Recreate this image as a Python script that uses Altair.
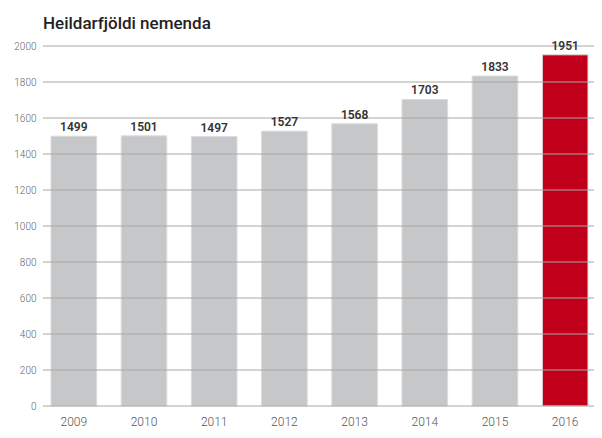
import altair as alt
import pandas as pd

years = ["2009", "2010", "2011", "2012", "2013", "2014", "2015", "2016"]
students = [1499, 1501, 1497, 1527, 1568, 1703, 1833, 1951]
highlight = ["nei", "nei", "nei", "nei", "nei", "nei", "nei", "já"]
grid_values = [0, 200, 400, 600, 800, 1000, 1200, 1400, 1600, 1800, 2000]

df = pd.DataFrame({"year": years, "students": students, "hl": highlight})
grid_df = pd.DataFrame({"v": grid_values})

FONT = "Roboto"
W = 551
H = 360

x_scale = alt.Scale(paddingInner=0.35, paddingOuter=0.0997, align=0.571)
x_axis = alt.Axis(title=None, labelAngle=0, ticks=False, domain=False,
                  labelPadding=10, labelFontSize=12, labelColor="#555",
                  labelFont=FONT, labelFontWeight=300)
y_scale = alt.Scale(domain=[0, 2000], nice=False)
y_axis = alt.Axis(title=None, values=grid_values, grid=False, ticks=False,
                  domain=False, labelPadding=7, labelFontSize=10,
                  labelColor="#666", labelFont=FONT, labelFontWeight=300,
                  format="d", labelOverlap=False)

bars = alt.Chart(df).mark_bar(stroke="#dcdcdc", strokeWidth=1).encode(
    x=alt.X("year:N", sort=years, scale=x_scale, axis=x_axis),
    y=alt.Y("students:Q", scale=y_scale, axis=y_axis),
    color=alt.Color("hl:N", scale=alt.Scale(domain=["nei", "já"],
                                           range=["#c6c7c9", "#c0001a"]), legend=None),
)

grid = alt.Chart(grid_df).mark_rule(color="#a8a8a8", strokeWidth=1).encode(
    y=alt.Y("v:Q", scale=y_scale, axis=y_axis),
    x=alt.value(0),
    x2=alt.value(W),
)

labels = alt.Chart(df).mark_text(dy=-9, fontSize=12, fontWeight=600,
                                 color="#333", font=FONT).encode(
    x=alt.X("year:N", sort=years, scale=x_scale, axis=x_axis),
    y=alt.Y("students:Q", scale=y_scale, axis=y_axis),
    text="students:Q",
)

chart = alt.layer(bars, grid, labels).properties(
    width=W,
    height=H,
    title=alt.TitleParams("Heildarfjöldi nemenda", anchor="start", frame="group",
                          fontSize=17, fontWeight=500, color="#222", font=FONT,
                          offset=7),
    autosize=alt.AutoSizeParams(type="none"),
    padding={"left": 35, "top": 38, "right": 0, "bottom": 24},
).configure_view(stroke=None)

chart.save("out.html", embed_options={"renderer": "svg", "actions": False})
